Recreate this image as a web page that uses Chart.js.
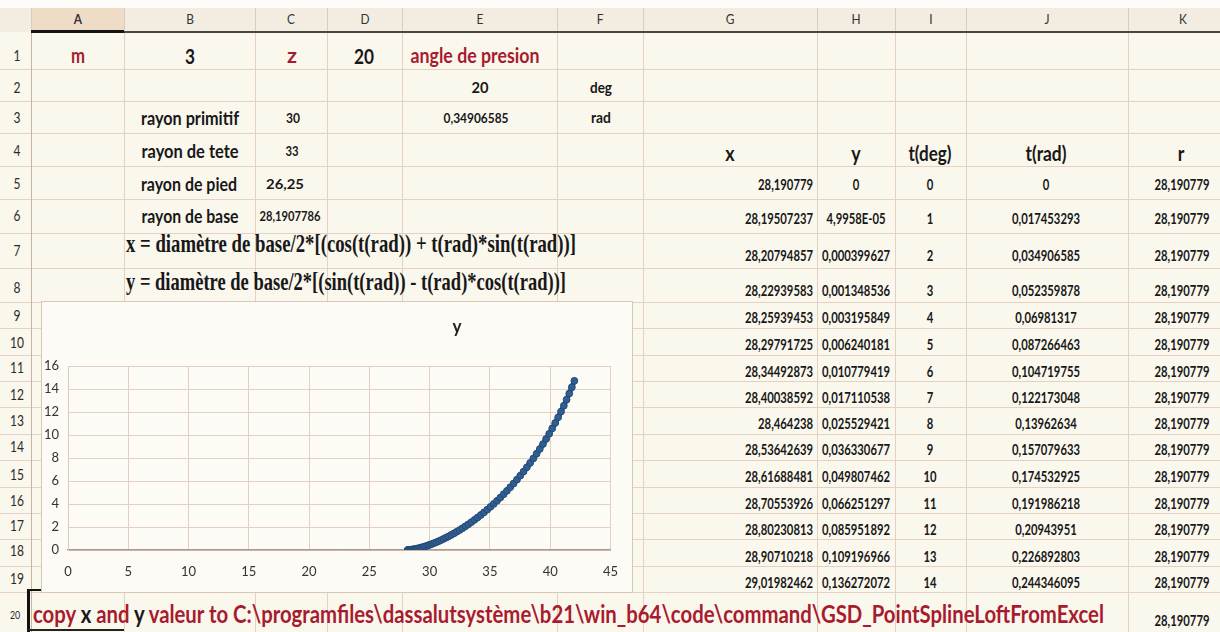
<!DOCTYPE html>
<html>
<head>
<meta charset="utf-8">
<title>Développante de cercle</title>
<script src="https://cdn.jsdelivr.net/npm/chart.js@4.4.0/dist/chart.umd.min.js"></script>
<style>
  html, body { margin: 0; padding: 0; }
  body {
    width: 1220px; height: 632px; position: relative; overflow: hidden;
    background: #faf7ed; font-family: Lato, "Open Sans", "DejaVu Sans", sans-serif;
  }
  .ln { position: absolute; }
  .t { position: absolute; white-space: nowrap; line-height: 1; }
  #chartBox {
    position: absolute; left: 41px; top: 301px; width: 590px; height: 290px;
    border: 1px solid #d9c6b7; background: #fdfbf5;
  }
  #chartBox canvas { display: block; }
</style>
</head>
<body>
<div id="chartBox"><canvas id="c" width="590" height="290"></canvas></div>
<script>
// ---- worksheet values ----
const colLetters = ['A', 'B', 'C', 'D', 'E', 'F', 'G', 'H', 'I', 'J', 'K'];
const module_m = 3;
const teeth_z = 20;
const pressureDeg = 20;
const pressureRad = 0.34906585;
const rayonPrimitif = 30;
const rayonTete = 33;
const rayonPied = 26.25;
const rayonBase = 28.1907786;

// table columns (t = 0..14 deg)
const tDeg = [0, 1, 2, 3, 4, 5, 6, 7, 8, 9, 10, 11, 12, 13, 14];
const tRad = [0, 0.017453293, 0.034906585, 0.052359878, 0.06981317, 0.087266463,
  0.104719755, 0.122173048, 0.13962634, 0.157079633, 0.174532925, 0.191986218,
  0.20943951, 0.226892803, 0.244346095];
const xTable = [28.190779, 28.19507237, 28.20794857, 28.22939583, 28.25939453,
  28.29791725, 28.34492873, 28.40038592, 28.464238, 28.53642639, 28.61688481,
  28.70553926, 28.80230813, 28.90710218, 29.01982462];
const yTable = [0, 0.000049958, 0.000399627, 0.001348536, 0.003195849, 0.006240181,
  0.010779419, 0.017110538, 0.025529421, 0.036330677, 0.049807462, 0.066251297,
  0.085951892, 0.109196966, 0.136272072];
const rColumn = [28.190779, 28.190779, 28.190779, 28.190779, 28.190779, 28.190779,
  28.190779, 28.190779, 28.190779, 28.190779, 28.190779, 28.190779, 28.190779,
  28.190779, 28.190779, 28.190779];

// rest of the involute points (t = 15..70 deg), below the visible rows
const xCurve = [29.1404, 29.2686, 29.4045, 29.5478, 29.6984, 29.8563, 30.0212, 30.1930,
  30.3715, 30.5565, 30.7479, 30.9456, 31.1493, 31.3587, 31.5738, 31.7942, 32.0199,
  32.2505, 32.4860, 32.7258, 32.9700, 33.2182, 33.4701, 33.7256, 33.9843, 34.2460,
  34.5103, 34.7774, 35.0464, 35.3174, 35.5899, 35.8638, 36.1386, 36.4142, 36.6902,
  36.9662, 37.2421, 37.5173, 37.7918, 38.0651, 38.3368, 38.6067, 38.8745, 39.1398,
  39.4023, 39.6616, 39.9174, 40.1694, 40.4172, 40.6605, 40.8990, 41.1321, 41.3599,
  41.5817, 41.7973, 42.0063];
const yCurve = [0.1675, 0.2030, 0.2433, 0.2885, 0.3389, 0.3948, 0.4565, 0.5242, 0.5981,
  0.6786, 0.7659, 0.8601, 0.9617, 1.0707, 1.1875, 1.3123, 1.4452, 1.5866, 1.7365,
  1.8953, 2.0631, 2.2401, 2.4266, 2.6226, 2.8285, 3.0443, 3.2701, 3.5063, 3.7528,
  4.0100, 4.2779, 4.5565, 4.8462, 5.1469, 5.4589, 5.7821, 6.1170, 6.4629, 6.8205,
  7.1899, 7.5709, 7.9636, 8.3682, 8.7847, 9.2130, 9.6532, 10.1054, 10.5696, 11.0457,
  11.5336, 12.0336, 12.5454, 13.0691, 13.6046, 14.1519, 14.7109];

// axis ranges
const xMin = 0, xMax = 45, xStep = 5;
const yMin = 0, yMax = 16, yStep = 2;

// ---- sheet geometry ----
const colEdges = [31, 124, 255, 327, 402, 557, 643, 817, 895, 966, 1128, 1238];
const rowEdges = [32, 69, 101, 133, 166, 199, 233, 268, 302, 328, 355, 381, 407, 434,
  460, 487, 513, 539, 566, 592, 632];
const rowLabelY = [55, 87, 117, 150, 183, 215, 250, 287, 315, 342, 367, 394, 420, 446,
  474, 500, 525, 550, 578, 614];
const tableRowY = [184, 218, 255, 290, 317, 344, 371, 397, 423, 449, 476, 503, 529, 556, 582];

const RED = '#a81b2e';
const INK = '#181818';
const SANS = 'Lato, "Open Sans", "DejaVu Sans", sans-serif';
const SERIF = '"Liberation Serif", "DejaVu Serif", serif';

function rect(x, y, w, h, color) {
  const d = document.createElement('div');
  d.className = 'ln';
  d.style.left = x + 'px'; d.style.top = y + 'px';
  d.style.width = w + 'px'; d.style.height = h + 'px';
  d.style.background = color;
  document.body.insertBefore(d, document.getElementById('chartBox'));
  return d;
}

// text placed by anchor point, squeezed horizontally to a width when given
function txt(content, x, y, o, front) {
  const el = document.createElement('div');
  el.className = 't';
  if (Array.isArray(content)) {
    content.forEach(([s, col]) => {
      const sp = document.createElement('span');
      sp.textContent = s; sp.style.color = col; el.appendChild(sp);
    });
  } else {
    el.textContent = content;
  }
  el.style.fontSize = (o.size || 14) + 'px';
  el.style.fontWeight = o.weight || 'bold';
  el.style.fontFamily = o.family || SANS;
  el.style.color = o.color || INK;
  el.style.left = x + 'px';
  el.style.top = y + 'px';
  if (front) document.body.appendChild(el);
  else document.body.insertBefore(el, document.getElementById('chartBox'));
  const nat = el.getBoundingClientRect().width;
  const f = o.w ? o.w / nat : (o.sx || 0.82);
  const align = o.align || 'c';
  const tx = align === 'c' ? '-50%' : align === 'r' ? '-100%' : '0';
  el.style.transformOrigin = align === 'c' ? '50% 50%' : align === 'r' ? '100% 50%' : '0 50%';
  el.style.transform = 'translate(' + tx + ',-50%) scaleX(' + f + ')';
  return el;
}

function fmt(v) {
  if (v === 0) return '0';
  if (Math.abs(v) < 1e-4) {
    const [m, e] = v.toExponential(4).split('e');
    const n = parseInt(e, 10);
    return m.replace('.', ',') + 'E' + (n < 0 ? '-' : '+') + String(Math.abs(n)).padStart(2, '0');
  }
  return String(v).replace('.', ',');
}

// ---- background bands ----
rect(0, 0, 1220, 8, '#fdfcf8');
rect(0, 8, 1220, 24, '#f2ece1');
rect(colEdges[0], 8, colEdges[1] - colEdges[0], 24, '#eedcc7');

// grid lines
for (let i = 1; i < rowEdges.length - 1; i++) rect(0, rowEdges[i], 1220, 1, '#e5d1c3');
for (let i = 0; i < colEdges.length - 1; i++) {
  rect(colEdges[i], 8, 1, 24, '#d8cdc0');
  rect(colEdges[i], 32, 1, 600, i === 0 ? '#c7b4a4' : '#e5d1c3');
}
// header underline
rect(colEdges[0], 31, 1220 - colEdges[0], 2, '#4b4640');
rect(colEdges[0], 30, colEdges[1] - colEdges[0], 3, '#141414');

// column letters
colLetters.forEach((L, i) => {
  txt(L, (colEdges[i] + colEdges[i + 1]) / 2, 19, { size: 14, weight: i === 0 ? 'bold' : 'normal', color: '#333', sx: 0.85 });
});
// row numbers
rowLabelY.forEach((y, i) => {
  const n = i + 1;
  txt(String(n), n === 20 ? 15 : 17, y, { size: n === 20 ? 11 : 15, weight: 'normal', color: '#2b2b2b', sx: 0.8 });
});

// ---- parameter cells ----
txt('m', 78, 55, { size: 20, color: RED, w: 14 });
txt(String(module_m), 190, 55, { size: 21, w: 10 });
txt('z', 292, 55, { size: 20, color: RED, w: 10 });
txt(String(teeth_z), 364, 55, { size: 21, w: 20 });
txt('angle de presion', 475, 55, { size: 20, color: RED, w: 129 });
txt(String(pressureDeg), 480, 87, { size: 16, w: 17 });
txt('deg', 601, 87, { size: 16, w: 22 });
txt('rayon primitif', 190, 117, { size: 19, w: 98 });
txt(fmt(rayonPrimitif), 293, 118, { size: 14, w: 14 });
txt(fmt(pressureRad), 476, 118, { size: 14, w: 65 });
txt('rad', 601, 117, { size: 16, w: 20 });
txt('rayon de tete', 190, 150, { size: 19, w: 97 });
txt(fmt(rayonTete), 292, 151, { size: 14, w: 13 });
txt('rayon de pied', 189, 183, { size: 19, w: 96 });
txt(fmt(rayonPied), 285, 184, { size: 14, w: 38 });
txt('rayon de base', 190, 215, { size: 19, w: 97 });
txt(fmt(rayonBase), 290, 216, { size: 14, w: 61 });
txt('x = diamètre de base/2*[(cos(t(rad)) + t(rad)*sin(t(rad))]', 126, 243,
  { size: 25, family: SERIF, align: 'l', w: 450 });
txt('y = diamètre de base/2*[(sin(t(rad)) - t(rad)*cos(t(rad))]', 126, 281,
  { size: 25, family: SERIF, align: 'l', w: 440 });

// ---- table ----
txt('x', 730, 152, { size: 21, sx: 0.85 });
txt('y', 856, 152, { size: 21, sx: 0.85 });
txt('t(deg)', 930, 152, { size: 21, w: 43 });
txt('t(rad)', 1046, 152, { size: 21, w: 41 });
txt('r', 1181, 152, { size: 21, sx: 0.85 });

// width factor for the table digits
const probe = txt('28,19507237', -500, -500, { size: 16 });
const digitSqueeze = 68 / (probe.getBoundingClientRect().width / 0.82);
probe.remove();

tDeg.forEach((d, i) => {
  const y = tableRowY[i];
  txt(fmt(xTable[i]), 813, y, { size: 16, align: 'r', sx: digitSqueeze });
  txt(fmt(yTable[i]), 856, y, { size: 16, sx: digitSqueeze });
  txt(String(d), 930, y, { size: 16, sx: digitSqueeze });
  txt(fmt(tRad[i]), 1046, y, { size: 16, sx: digitSqueeze });
  txt(fmt(rColumn[i]), 1182, y, { size: 16, sx: digitSqueeze });
});
txt(fmt(rColumn[15]), 1182, 620, { size: 16, sx: digitSqueeze });

// row 20 note
txt([
  ['copy ', RED], ['x', INK], [' and ', RED], ['y', INK],
  [' valeur to C:\\programfiles\\dassalutsystème\\b21\\win_b64\\code\\command\\GSD_PointSplineLoftFromExcel', RED]
], 33, 614, { size: 24, align: 'l', w: 1071 });

// selected cell A20
rect(27, 589, 3, 43, '#111');
rect(27, 589, 15, 2, '#111');
rect(27, 629, 97, 2, '#222');

// chart title (series name), set off-centre above the plot
txt('y', 457, 325, { size: 19, color: '#222', sx: 0.9 }, true);

// ---- chart ----
const xAll = xTable.concat(xCurve);
const yAll = yTable.concat(yCurve);
const points = xAll.map((x, i) => ({ x: x, y: yAll[i] }));

new Chart(document.getElementById('c'), {
  type: 'scatter',
  data: {
    datasets: [{
      label: 'y',
      data: points,
      showLine: true,
      borderColor: '#2c5889',
      borderWidth: 5,
      pointRadius: 3.4,
      pointBackgroundColor: '#2f5e92',
      pointBorderColor: '#264a74',
      pointBorderWidth: 1
    }]
  },
  options: {
    responsive: false,
    animation: false,
    devicePixelRatio: 1,
    events: [],
    layout: { padding: { left: 0, right: 19, top: 64, bottom: 0 } },
    plugins: {
      legend: { display: false },
      tooltip: { enabled: false },
      title: { display: false }
    },
    scales: {
      x: {
        type: 'linear', min: xMin, max: xMax,
        ticks: { stepSize: xStep, padding: 14, color: '#333', font: { family: SANS, size: 13 } },
        grid: { color: '#e4d0c1', drawTicks: false },
        border: { color: '#a99a8d', width: 1.5 },
        afterFit(s) { s.height = 42; }
      },
      y: {
        type: 'linear', min: yMin, max: yMax,
        ticks: { stepSize: yStep, padding: 9, color: '#333', font: { family: SANS, size: 13 } },
        grid: { color: '#e4d0c1', drawTicks: false },
        border: { color: '#e0cbbb' },
        afterFit(s) { s.width = 26; }
      }
    }
  }
});
</script>
</body>
</html>
